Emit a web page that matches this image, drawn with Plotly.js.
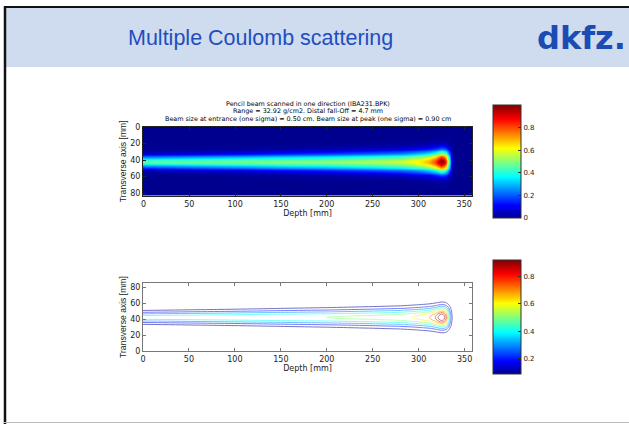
<!DOCTYPE html>
<html><head><meta charset="utf-8">
<script src="https://cdn.plot.ly/plotly-3.0.1.min.js"></script>
<style>html,body{margin:0;padding:0;background:#fff;} #chart{width:629px;height:424px;}</style>
</head><body><div id="chart"></div>
<script>
// ---- values ----
const depthMm   = [0, 50, 100, 150, 200, 250, 280, 293, 305, 312, 318, 322, 325, 328, 330, 332, 334, 336, 338, 341, 358];
const axisDose  = [0.45, 0.46, 0.475, 0.49, 0.50, 0.53, 0.56, 0.60, 0.65, 0.70, 0.80, 0.93, 1.00, 0.93, 0.80, 0.55, 0.30, 0.12, 0.03, 0.0, 0.0];
const sigmaMm   = [5.0, 5.4, 5.8, 6.3, 6.8, 7.4, 7.8, 8.1, 8.4, 8.6, 8.8, 8.9, 9.0, 9.0, 9.0, 9.0, 9.0, 9.0, 9.0, 9.0, 9.0];
const beamCentreMm = 42;
const transverseMm = [];
for (let t = 0; t <= 84; t++) transverseMm.push(t);
const depthTicks = [0, 50, 100, 150, 200, 250, 300, 350];
const transTicks = [0, 20, 40, 60, 80];
const cbar1Ticks = [0, 0.2, 0.4, 0.6, 0.8];
const cbar1Text  = ['0', '0.2', '0.4', '0.6', '0.8'];
const cbar2Ticks = [0.2, 0.4, 0.6, 0.8];
const cbar2Text  = ['0.2', '0.4', '0.6', '0.8'];
const contourLevels = {start: 0.1, end: 0.9, size: 0.1};
const titleLines = [
  'Pencil beam scanned in one direction (IBA231.BPK)',
  'Range = 32.92 g/cm2. Distal fall-Off = 4.7 mm',
  'Beam size at entrance (one sigma) = 0.50 cm. Beam size at peak (one sigma) = 0.90 cm'
];

// ---- dose grid: Gaussian transverse profile around the read axis dose ----
const zGrid = transverseMm.map(t => depthMm.map((d, j) => {
  const u = (t - beamCentreMm) / sigmaMm[j];
  return axisDose[j] * Math.exp(-0.5 * u * u);
}));

const jet = [[0,'rgb(0,0,143)'],[0.111,'rgb(0,0,255)'],[0.365,'rgb(0,255,255)'],[0.619,'rgb(255,255,0)'],[0.873,'rgb(255,0,0)'],[1,'rgb(128,0,0)']];

const W = 629, H = 424;
const fx = p => p / W, fy = p => 1 - p / H;

const tickFont = {family: 'DejaVu Sans', size: 8, color: '#222'};
const cbFont = {family: 'DejaVu Sans', size: 7, color: '#222'};

const traces = [
  {type: 'heatmap', x: depthMm, y: transverseMm, z: zGrid, xaxis: 'x', yaxis: 'y',
   colorscale: jet, zmin: 0, zmax: 1, zsmooth: 'best', hoverinfo: 'skip',
   colorbar: {x: fx(493), xanchor: 'left', xpad: 0, y: fy(105), yanchor: 'top', ypad: 0,
     len: 113, lenmode: 'pixels', thickness: 28, thicknessmode: 'pixels',
     outlinewidth: 1, outlinecolor: '#333', tickvals: cbar1Ticks, ticktext: cbar1Text,
     ticks: 'inside', ticklen: 3, tickcolor: '#333', tickfont: cbFont}},
  {type: 'contour', x: depthMm, y: transverseMm, z: zGrid, xaxis: 'x2', yaxis: 'y2',
   autocontour: false, contours: Object.assign({coloring: 'lines'}, contourLevels),
   colorscale: jet, zauto: false, zmin: 0.09, zmax: 0.92, showscale: false,
   line: {width: 1}, opacity: 0.55, hoverinfo: 'skip'},
  {type: 'scatter', mode: 'markers', x: [-1000, -1000], y: [0, 0], xaxis: 'x2', yaxis: 'y2',
   hoverinfo: 'skip', marker: {size: 1, color: [0.09, 0.92], colorscale: jet, cmin: 0.09, cmax: 0.92,
   showscale: true,
   colorbar: {x: fx(493), xanchor: 'left', xpad: 0, y: fy(260), yanchor: 'top', ypad: 0,
     len: 114, lenmode: 'pixels', thickness: 28, thicknessmode: 'pixels',
     outlinewidth: 1, outlinecolor: '#333', tickvals: cbar2Ticks, ticktext: cbar2Text,
     ticks: 'inside', ticklen: 3, tickcolor: '#333', tickfont: cbFont}}}
];

function xAx(anchor, range, color) {
  return {domain: [fx(143), fx(472)], anchor: anchor, range: range, tickvals: depthTicks,
    ticks: 'inside', ticklen: 3, tickcolor: color, mirror: 'ticks', showline: true, linecolor: color,
    linewidth: 1, showgrid: false, zeroline: false, tickfont: tickFont,
    title: {text: 'Depth [mm]', font: tickFont, standoff: 2}};
}
function yAx(anchor, dom, range, color) {
  return {domain: dom, anchor: anchor, range: range, tickvals: transTicks,
    ticks: 'inside', ticklen: 3, tickcolor: color, mirror: 'ticks', showline: true, linecolor: color,
    linewidth: 1, showgrid: false, zeroline: false, tickfont: tickFont,
    title: {text: 'Transverse axis [mm]', font: {family: 'Liberation Sans, Arial', size: 8.6, color: '#222'}, standoff: 2}};
}

const annotations = [
  {text: 'Multiple Coulomb scattering', x: fx(260), y: fy(38), xref: 'paper', yref: 'paper',
   xanchor: 'center', yanchor: 'middle', showarrow: false,
   font: {family: 'Liberation Sans, Arial', size: 21.5, color: 'rgb(30,78,190)'}},
  {text: '<b>dkfz.</b>', x: fx(628), y: fy(38), xref: 'paper', yref: 'paper',
   xanchor: 'right', yanchor: 'middle', showarrow: false,
   font: {family: 'DejaVu Sans', size: 32, color: 'rgb(26,76,180)'}}
];
const titleY = [103.5, 111, 118.5];
titleLines.forEach((t, i) => annotations.push({text: t, x: fx(307.5), y: fy(titleY[i]), xref: 'paper', yref: 'paper',
  xanchor: 'center', yanchor: 'middle', showarrow: false, font: {family: 'DejaVu Sans', size: 6.4, color: '#000'}}));

const shapes = [
  {type: 'rect', xref: 'paper', yref: 'paper', x0: fx(6), x1: 1, y0: fy(67), y1: fy(8), fillcolor: '#cfdcf0', line: {width: 0}, layer: 'below'},
  {type: 'line', xref: 'paper', yref: 'paper', x0: fx(4), x1: 1, y0: fy(7), y1: fy(7), line: {color: '#111', width: 2}},
  {type: 'line', xref: 'paper', yref: 'paper', x0: fx(5), x1: fx(5), y0: fy(6), y1: 0, line: {color: '#111', width: 2.5}},
  {type: 'line', xref: 'paper', yref: 'paper', x0: fx(4), x1: 1, y0: fy(422.5), y1: fy(422.5), line: {color: '#bbb', width: 1}}
];

const layout = {
  width: W, height: H, margin: {l: 0, r: 0, t: 0, b: 0}, showlegend: false,
  paper_bgcolor: '#fff', plot_bgcolor: '#fff',
  font: {family: 'DejaVu Sans', size: 8, color: '#222'},
  xaxis: xAx('y', [-0.5, 358.5], '#222'),
  yaxis: yAx('x', [fy(196), fy(126.5)], [83.5, -0.5], '#222'),
  xaxis2: xAx('y2', [0, 358], '#777'),
  yaxis2: yAx('x2', [fy(351), fy(283)], [0, 85], '#777'),
  annotations: annotations, shapes: shapes
};

Plotly.newPlot('chart', traces, layout, {displayModeBar: false, staticPlot: true});
</script>
</body></html>
